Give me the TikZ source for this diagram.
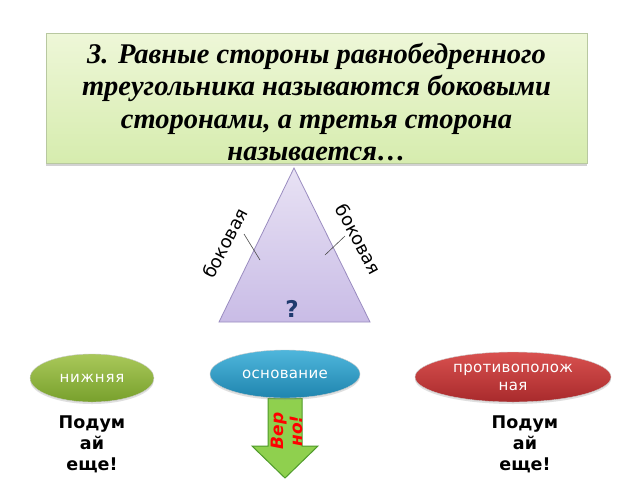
\documentclass[tikz,border=0pt]{standalone}
\usepackage{fontspec}
\setmainfont{Liberation Serif}
\setsansfont{DejaVu Sans}
\usetikzlibrary{shapes.geometric,shadows}
\definecolor{titletop}{HTML}{EEF7D8}
\definecolor{titlebot}{HTML}{D6ECAE}
\definecolor{titleedge}{HTML}{B8C8A0}
\definecolor{trione}{HTML}{E8E2F4}
\definecolor{tritwo}{HTML}{C9BCE6}
\definecolor{triedge}{HTML}{9A8CC0}
\definecolor{greentop}{HTML}{A9C85A}
\definecolor{greenbot}{HTML}{78A02C}
\definecolor{bluetop}{HTML}{4FB6DC}
\definecolor{bluebot}{HTML}{1F85AE}
\definecolor{redtop}{HTML}{D9514F}
\definecolor{redbot}{HTML}{A82A2C}
\definecolor{arrowfill}{HTML}{8FD04E}
\definecolor{arrowedge}{HTML}{4E9A2A}
\definecolor{qnavy}{HTML}{1F3A6E}
\tikzset{
  answer/.style={ellipse, minimum width=#1, minimum height=48pt, inner sep=0pt,
    draw=white!80!black, line width=0.4pt, text=white, font=\sffamily\fontsize{15}{18}\selectfont,
    align=center, drop shadow={shadow xshift=0pt, shadow yshift=-2pt, opacity=0.25}},
  hint/.style={font=\sffamily\bfseries\fontsize{17.5}{21}\selectfont, align=center, text=black},
  sidelabel/.style={font=\sffamily\fontsize{18}{20}\selectfont, text=black},
  tick/.style={draw=black!70, line width=0.6pt}
}
\begin{document}
\begin{tikzpicture}[x=1pt,y=-1pt]
\useasboundingbox[fill=white] (0,0) rectangle (640,480);
% title
\node[draw=titleedge, top color=titletop, bottom color=titlebot, minimum width=541pt, minimum height=130pt,
  drop shadow={shadow xshift=0pt, shadow yshift=-3pt, opacity=0.35}, inner sep=0pt] (title) at (316.5,98) {};
\node[font=\bfseries\itshape\fontsize{28.5}{32.5}\selectfont, align=center] (titletext) at (316.5,102)
  {3. Равные стороны равнобедренного\\треугольника называются боковыми\\сторонами, а третья сторона\\называется…};
% triangle
\coordinate (A) at (294,168);
\coordinate (B) at (219,322);
\coordinate (C) at (370,322);
\shade[top color=trione, bottom color=tritwo, draw=triedge, line width=0.8pt] (A) -- (B) -- (C) -- cycle;
\coordinate (t1a) at (244,234);
\coordinate (t1b) at (260,260);
\coordinate (t2a) at (345,236);
\coordinate (t2b) at (325,255);
\draw[tick] (t1a) -- (t1b);
\draw[tick] (t2a) -- (t2b);
\node[sidelabel, rotate=62, inner sep=0pt] (lside) at (225,243) {боковая};
\node[sidelabel, rotate=-62, inner sep=0pt] (rside) at (359,239) {боковая};
\node[font=\sffamily\bfseries\fontsize{23}{24}\selectfont, text=qnavy] (q) at (292,309) {?};
% arrow
\coordinate (s1) at (268,398);
\coordinate (s2) at (302,398);
\coordinate (s3) at (302,446);
\coordinate (s4) at (318,446);
\coordinate (tip) at (285,478);
\coordinate (s6) at (252,446);
\coordinate (s7) at (268,446);
\draw[fill=arrowfill, draw=arrowedge, line width=1pt, line join=miter] (s1) -- (s2) -- (s3) -- (s4) -- (tip) -- (s6) -- (s7) -- cycle;
\node[rotate=90, font=\sffamily\bfseries\itshape\fontsize{17}{19}\selectfont, text=red, align=center] (verno) at (287,431) {Вер\\но!};
% answers
\node[answer=124pt, top color=greentop, bottom color=greenbot] (a1) at (92,378) {\addfontfeatures{LetterSpace=5}нижняя};
\node[answer=150pt, top color=bluetop, bottom color=bluebot] (a2) at (285,374) {\addfontfeatures{LetterSpace=2}основание};
\node[answer=196pt, minimum height=50pt, top color=redtop, bottom color=redbot] (a3) at (513,377) {\addfontfeatures{LetterSpace=2}противополож\\\addfontfeatures{LetterSpace=2}ная};
\node[hint] (h1) at (92,444) {Подум\\ай\\еще!};
\node[hint] (h3) at (525,444) {Подум\\ай\\еще!};
\end{tikzpicture}
\end{document}
